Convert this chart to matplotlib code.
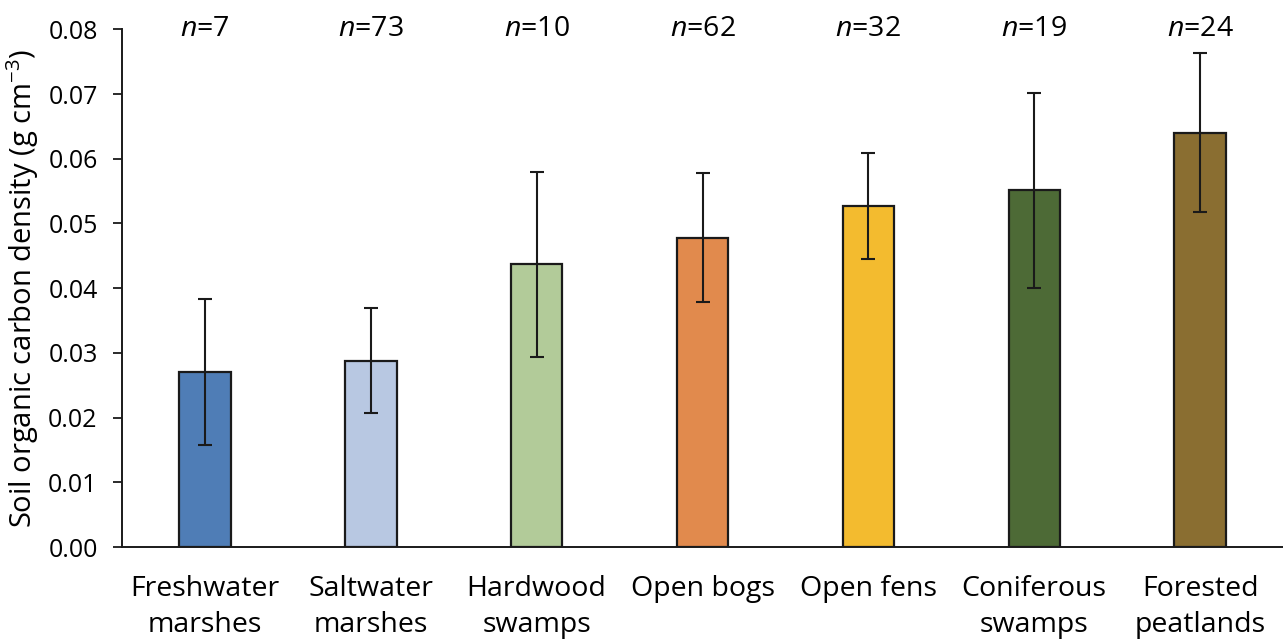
import numpy as np
import matplotlib.pyplot as plt

# wetland classes and their mean soil organic carbon density
categories = ['Freshwater\nmarshes', 'Saltwater\nmarshes', 'Hardwood\nswamps',
              'Open bogs', 'Open fens', 'Coniferous\nswamps', 'Forested\npeatlands']
means = [0.0270, 0.0288, 0.0437, 0.0478, 0.0527, 0.0551, 0.0640]
errors = [0.0113, 0.0081, 0.0143, 0.0100, 0.0082, 0.0150, 0.0123]
n_obs = [7, 73, 10, 62, 32, 19, 24]
colors = ['#4f7db6', '#b8c8e2', '#b2cb99', '#e18a4d', '#f3bb2f', '#4d6a36', '#8a6e31']

plt.rcParams['font.family'] = ['Open Sans', 'DejaVu Sans']
plt.rcParams['mathtext.fontset'] = 'custom'
plt.rcParams['mathtext.rm'] = 'Open Sans'
plt.rcParams['mathtext.it'] = 'Open Sans:italic'

fig = plt.figure(figsize=(12.83, 6.41), dpi=100)
ax = fig.add_axes([0.0951, 0.1466, 0.9049, 0.8077])

x = np.arange(len(categories))
ax.bar(x, means, width=0.31, color=colors, edgecolor='#1a1a1a', linewidth=1.6,
       yerr=errors, error_kw=dict(ecolor='#1a1a1a', elinewidth=1.5, capsize=4.8, capthick=1.5))

for xi, n in zip(x, n_obs):
    ax.text(xi, 0.0801, r'$\it{n}$=' + str(n), ha='center', va='center', fontsize=20.5)

ax.set_xlim(-0.5, len(categories) - 0.5)
ax.set_ylim(0, 0.08)
ax.set_yticks(np.arange(0, 0.081, 0.01))
ax.set_yticklabels(['%.2f' % v for v in np.arange(0, 0.081, 0.01)])
ax.set_xticks(x)
ax.set_xticklabels(categories, fontsize=20.5, linespacing=1.4)
ax.tick_params(axis='x', length=0, pad=20)
ax.tick_params(axis='y', labelsize=18, length=6.5, width=1.3, color='#1a1a1a', pad=11)
ax.set_ylabel('Soil organic carbon density (g cm$^{-3}$)', fontsize=21, labelpad=5)

for side in ['top', 'right']:
    ax.spines[side].set_visible(False)
for side in ['left', 'bottom']:
    ax.spines[side].set_linewidth(1.4)
    ax.spines[side].set_color('#1a1a1a')

fig.savefig('out.png', dpi=100)
